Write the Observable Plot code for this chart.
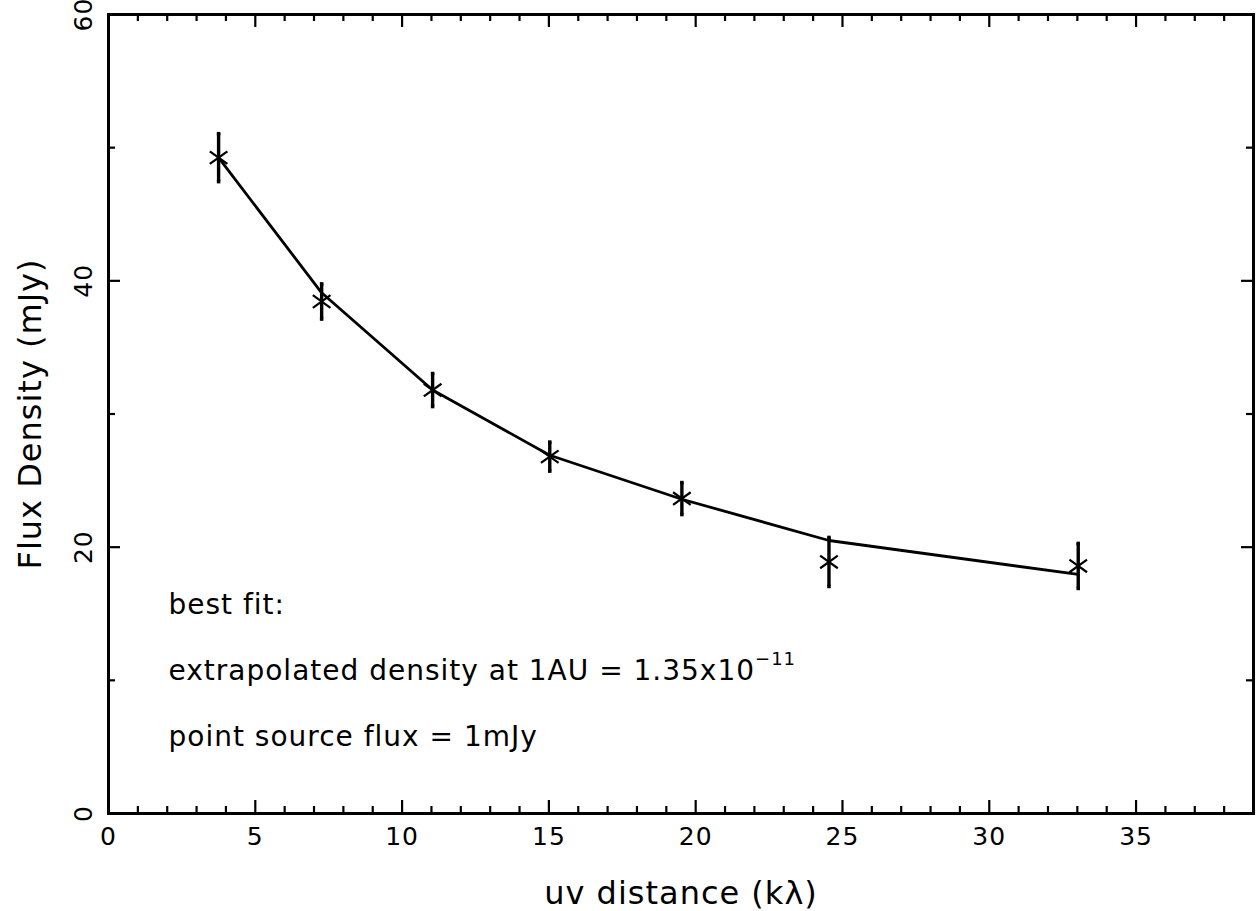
<!DOCTYPE html>
<html>
<head>
<meta charset="utf-8">
<script src="https://cdn.jsdelivr.net/npm/d3@7"></script>
<script src="https://cdn.jsdelivr.net/npm/@observablehq/plot@0.6"></script>
<style>
  html, body { margin: 0; padding: 0; background: #fff; }
  svg text { letter-spacing: 1px; }
</style>
</head>
<body>
<div id="chart"></div>
<script>
// ---- data ----
const uvDistance = [3.75, 7.26, 11.04, 15.03, 19.53, 24.54, 33.03];
const fluxDensity = [49.25, 38.45, 31.8, 26.8, 23.65, 18.89, 18.59];
const fluxError = [1.8, 1.32, 1.24, 1.09, 1.2, 1.84, 1.69];
const bestFit = [49.25, 39.1, 31.8, 26.9, 23.6, 20.5, 17.95];

const xMajorTicks = [0, 5, 10, 15, 20, 25, 30, 35];
const xMinorTicks = d3.range(0, 40, 1).filter(v => v % 5 !== 0);
const yMajorTicks = [0, 20, 40, 60];
const yMinorTicks = [10, 30, 50];

const xLabel = "uv distance (kλ)";
const yLabel = "Flux Density (mJy)";
const annotLines = [
  "best fit:",
  "extrapolated density at 1AU = 1.35x10",
  "point source flux = 1mJy"
];
const superscript = "−11";

// ---- build ----
const W = 1260, H = 911;
const mL = 108, mR = 7, mT = 14, mB = 98;
const plotW = W - mL - mR, plotH = H - mT - mB;

const points = uvDistance.map((x, i) => ({x, y: fluxDensity[i], e: fluxError[i], fit: bestFit[i]}));

const crossSymbol = {
  draw(context, size) {
    const r = Math.sqrt(size / Math.PI);
    const hx = 1.4 * r, hy = r;
    context.moveTo(-hx, -hy); context.lineTo(hx, hy);
    context.moveTo(-hx, hy); context.lineTo(hx, -hy);
  }
};

const font = "DejaVu Sans, sans-serif";

const marks = [
  Plot.frame({stroke: "black", strokeWidth: 3}),
  // bottom ticks
  Plot.ruleX(xMajorTicks, {x: d => d, insetTop: plotH - 13, strokeWidth: 2.2}),
  Plot.ruleX(xMinorTicks, {x: d => d, insetTop: plotH - 7, strokeWidth: 2.2}),
  // top ticks
  Plot.ruleX(xMajorTicks, {x: d => d, insetBottom: plotH - 13, strokeWidth: 2.2}),
  Plot.ruleX(xMinorTicks, {x: d => d, insetBottom: plotH - 7, strokeWidth: 2.2}),
  // left ticks
  Plot.ruleY(yMajorTicks, {y: d => d, insetRight: plotW - 12, strokeWidth: 2.2}),
  Plot.ruleY(yMinorTicks, {y: d => d, insetRight: plotW - 7, strokeWidth: 2.2}),
  // right ticks
  Plot.ruleY(yMajorTicks, {y: d => d, insetLeft: plotW - 12, strokeWidth: 2.2}),
  Plot.ruleY(yMinorTicks, {y: d => d, insetLeft: plotW - 7, strokeWidth: 2.2}),
  // tick labels
  Plot.text(xMajorTicks, {x: d => d, text: d => String(d), frameAnchor: "bottom", dy: 23, lineAnchor: "middle", fontSize: 25, fill: "black"}),
  Plot.text(yMajorTicks, {y: d => d, text: d => String(d), frameAnchor: "left", dx: -25, rotate: -90, textAnchor: "middle", lineAnchor: "middle", fontSize: 25, fill: "black"}),
  // axis labels
  Plot.text([xLabel], {text: d => d, frameAnchor: "bottom", dy: 80, lineAnchor: "middle", fontSize: 32, fill: "black"}),
  Plot.text([yLabel], {text: d => d, frameAnchor: "left", dx: -78, rotate: -90, textAnchor: "middle", lineAnchor: "middle", fontSize: 32, fill: "black"}),
  // best fit line
  Plot.line(points, {x: "x", y: "fit", stroke: "black", strokeWidth: 2.8}),
  // error bars
  Plot.ruleX(points, {x: "x", y1: d => d.y - d.e, y2: d => d.y + d.e, stroke: "black", strokeWidth: 3.4}),
  Plot.dot(points, {x: "x", y: d => d.y - d.e, r: 2, fill: "black", symbol: "square"}),
  Plot.dot(points, {x: "x", y: d => d.y + d.e, r: 2, fill: "black", symbol: "square"}),
  // markers
  Plot.dot(points, {x: "x", y: "y", r: 6.3, symbol: crossSymbol, stroke: "black", strokeWidth: 2.2, fill: "none"})
];

annotLines.forEach((t, i) => {
  marks.push(Plot.text([t], {text: d => d, frameAnchor: "bottom-left", dx: 60, dy: -208 + i * 66, textAnchor: "start", lineAnchor: "middle", fontSize: 28, fill: "black"}));
});

const chart = Plot.plot({
  width: W,
  height: H,
  marginLeft: mL,
  marginRight: mR,
  marginTop: mT,
  marginBottom: mB,
  x: {domain: [0, 39], axis: null},
  y: {domain: [0, 60], axis: null},
  style: {fontFamily: font, background: "white", color: "black", overflow: "visible"},
  marks
});

// add the superscript exponent to the density line
d3.select(chart).selectAll("text").each(function() {
  if (this.textContent === annotLines[1]) {
    d3.select(this).append("tspan")
      .attr("dy", -15)
      .attr("font-size", 18)
      .text(superscript);
  }
});

document.getElementById("chart").appendChild(chart);
</script>
</body>
</html>
